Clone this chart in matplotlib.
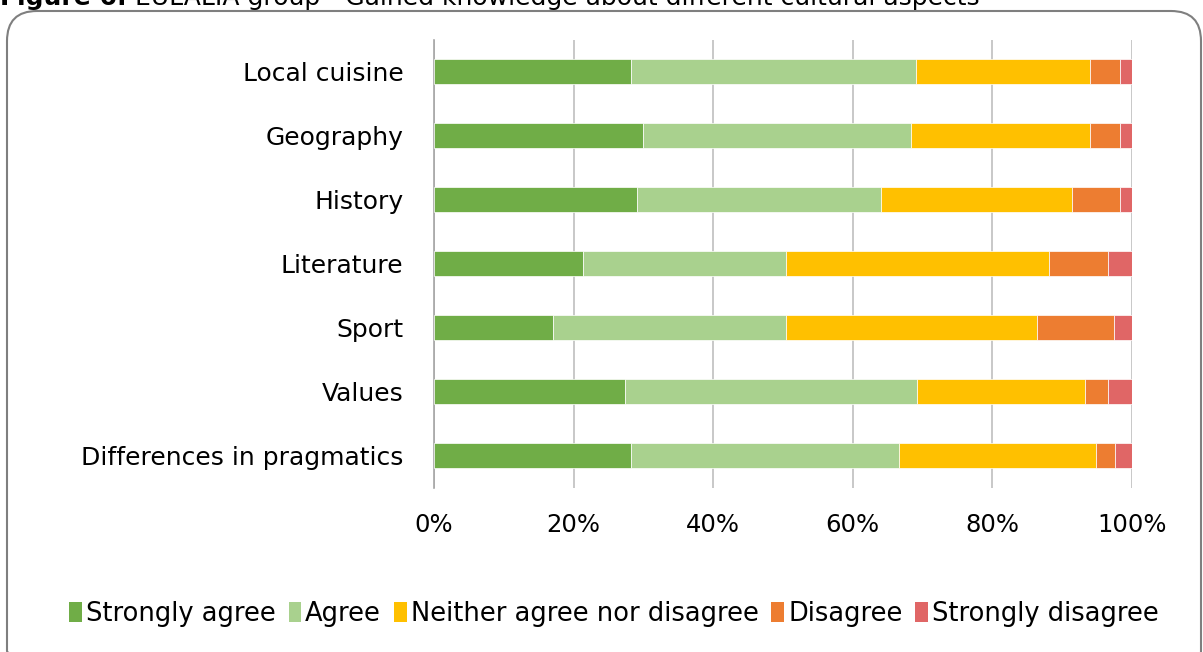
import numpy as np
import matplotlib.pyplot as plt
from matplotlib.patches import FancyBboxPatch, Patch

plt.rcParams['font.family'] = 'DejaVu Sans'

# Data (percent of respondents)
categories = ['Local cuisine', 'Geography', 'History', 'Literature',
              'Sport', 'Values', 'Differences in pragmatics']
strongly_agree = [28.2, 29.9, 29.1, 21.3, 17.0, 27.4, 28.2]
agree = [40.9, 38.4, 35.0, 29.1, 33.4, 41.8, 38.4]
neither = [24.9, 25.7, 27.3, 37.7, 36.0, 24.0, 28.3]
disagree = [4.3, 4.3, 6.9, 8.5, 11.0, 3.4, 2.6]
strongly_disagree = [1.7, 1.7, 1.7, 3.4, 2.6, 3.4, 2.6]

series = [strongly_agree, agree, neither, disagree, strongly_disagree]
labels = ['Strongly agree', 'Agree', 'Neither agree nor disagree',
          'Disagree', 'Strongly disagree']
colors = ['#70AD47', '#A9D18E', '#FFC000', '#ED7D31', '#E06666']
tick_labels = ['0%', '20%', '40%', '60%', '80%', '100%']

W, H = 1203, 652
fig = plt.figure(figsize=(W / 100, H / 100), dpi=100)

# background axes in pixel units, used for the rounded frame
bg = fig.add_axes([0, 0, 1, 1], zorder=-1)
bg.set_xlim(0, W)
bg.set_ylim(H, 0)
bg.axis('off')
bg.add_patch(FancyBboxPatch((7, 11), 1194, 670,
                            boxstyle='round,pad=0,rounding_size=30',
                            fill=False, edgecolor='#7F7F7F', linewidth=1.5))

# caption (cut off at the top, as in the source document)
t1 = fig.text(0.0, 1 - 5 / H, 'Figure 6:', fontsize=18, fontweight='bold',
              va='baseline', ha='left')
fig.text(0.0, 0.0, ' EULALIA group - Gained knowledge about different cultural aspects',
         fontsize=18, va='baseline', ha='left',
         transform=fig.transFigure)
fig.texts[-1].set_position((127 / W, 1 - 5 / H))

ax = fig.add_axes([434 / W, 1 - 487.5 / H, 698 / W, 448 / H])

y = np.arange(len(categories))
left = np.zeros(len(categories))
for vals, lab, col in zip(series, labels, colors):
    ax.barh(y, vals, left=left, height=0.4, color=col, label=lab,
            edgecolor='white', linewidth=0.5, zorder=3)
    left += np.array(vals)

ax.set_ylim(len(categories) - 0.5, -0.5)
ax.set_xlim(0, 100)
ax.set_xticks(np.arange(0, 101, 20))
ax.set_xticklabels(tick_labels)
ax.set_yticks(y)
ax.set_yticklabels(categories)
ax.tick_params(axis='y', length=0, labelsize=18, colors='black', pad=22)
ax.tick_params(axis='x', length=0, labelsize=17.5, colors='black', pad=18)

ax.xaxis.grid(True, color='#BFBFBF', linewidth=1.2, zorder=0)
for s in ['top', 'right', 'bottom']:
    ax.spines[s].set_visible(False)
ax.spines['left'].set_color('#A6A6A6')
ax.spines['left'].set_linewidth(1.2)

handles = [Patch(facecolor=c, label=l) for c, l in zip(colors, labels)]
fig.legend(handles=handles, loc='center', bbox_to_anchor=(614 / W, 1 - 614 / H),
           ncol=5, frameon=False, fontsize=18.5, handlelength=0.5,
           handleheight=0.8, handletextpad=0.15, columnspacing=0.5)

fig.savefig('out.png', dpi=100)
